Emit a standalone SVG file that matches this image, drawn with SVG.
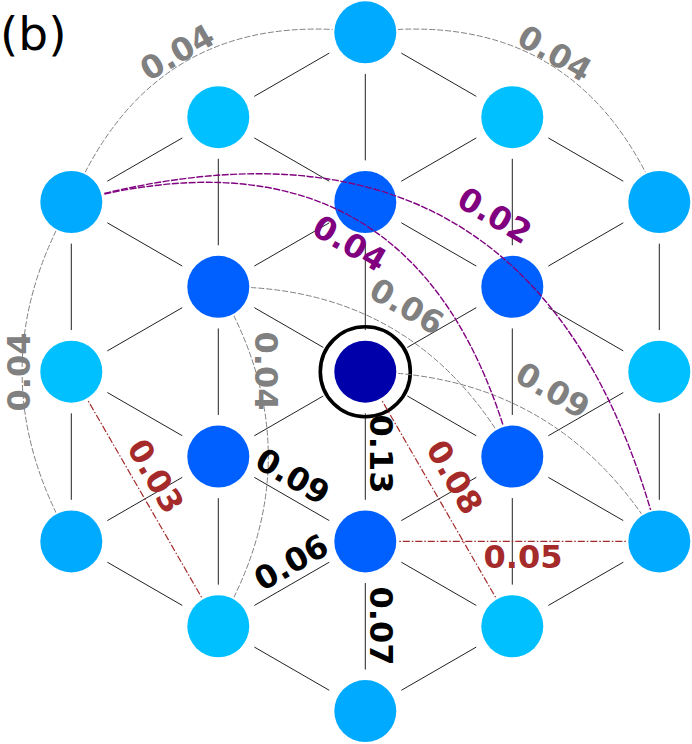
<svg xmlns="http://www.w3.org/2000/svg" width="692" height="744" viewBox="0 0 692 744">
<style>
.edge{stroke:#222;stroke-width:1;fill:none}
.ca{fill:#00aaff}
.cl{fill:#00c0ff}
.cm{fill:#0060ff}
.cd{fill:#0000aa}
.ring{fill:none;stroke:#000;stroke-width:3.6}
.arc{fill:none}
.gray{stroke:#808080;stroke-width:1;stroke-dasharray:6 2}
.purple{stroke:#800080;stroke-width:1.4;stroke-dasharray:7 1.5}
.brown{stroke:#a52a2a;stroke-width:1.2;stroke-dasharray:7 2 1.5 2}
.lbl{font-family:"DejaVu Sans",Verdana,sans-serif;font-weight:bold;font-size:32px;text-anchor:middle}
.tg{fill:#808080}.tp{fill:#800080}.tb{fill:#a52a2a}.tk{fill:#000}
</style>
<defs>
<mask id="endcut" maskUnits="userSpaceOnUse" x="0" y="0" width="692" height="744">
<rect x="0" y="0" width="692" height="744" fill="#fff"/>
<g fill="#000">
<circle cx="71.3" cy="202" r="33"/>
<circle cx="365.3" cy="32.3" r="33"/>
<circle cx="659.3" cy="202" r="33"/>
<circle cx="71.3" cy="541.4" r="33"/>
<circle cx="218.3" cy="286.85" r="33"/>
<circle cx="218.3" cy="626.25" r="33"/>
<circle cx="512.3" cy="456.55" r="33"/>
<circle cx="365.3" cy="371.7" r="33"/>
<circle cx="659.3" cy="541.4" r="33"/>
<circle cx="71.3" cy="371.7" r="33"/>
<circle cx="512.3" cy="626.25" r="33"/>
<circle cx="365.3" cy="541.4" r="33"/>
</g>
</mask>
</defs>
<g id="connectors-lattice" class="edge">
<line x1="71.3" y1="243.6" x2="71.3" y2="330.1"/>
<line x1="71.3" y1="413.3" x2="71.3" y2="499.8"/>
<line x1="218.3" y1="158.75" x2="218.3" y2="245.25"/>
<line x1="218.3" y1="328.45" x2="218.3" y2="414.95"/>
<line x1="218.3" y1="498.15" x2="218.3" y2="584.65"/>
<line x1="365.3" y1="73.9" x2="365.3" y2="160.4"/>
<line x1="365.3" y1="243.6" x2="365.3" y2="330.1"/>
<line x1="365.3" y1="413.3" x2="365.3" y2="499.8"/>
<line x1="365.3" y1="583" x2="365.3" y2="669.5"/>
<line x1="512.3" y1="158.75" x2="512.3" y2="245.25"/>
<line x1="512.3" y1="328.45" x2="512.3" y2="414.95"/>
<line x1="512.3" y1="498.15" x2="512.3" y2="584.65"/>
<line x1="659.3" y1="243.6" x2="659.3" y2="330.1"/>
<line x1="659.3" y1="413.3" x2="659.3" y2="499.8"/>
<line x1="107.33" y1="181.2" x2="182.27" y2="137.95"/>
<line x1="107.33" y1="222.8" x2="182.27" y2="266.05"/>
<line x1="107.33" y1="350.9" x2="182.27" y2="307.65"/>
<line x1="107.33" y1="392.5" x2="182.27" y2="435.75"/>
<line x1="107.33" y1="520.6" x2="182.27" y2="477.35"/>
<line x1="107.33" y1="562.2" x2="182.27" y2="605.45"/>
<line x1="254.33" y1="96.35" x2="329.27" y2="53.1"/>
<line x1="254.33" y1="137.95" x2="329.27" y2="181.2"/>
<line x1="254.33" y1="266.05" x2="329.27" y2="222.8"/>
<line x1="254.33" y1="307.65" x2="323.3" y2="347.45"/>
<line x1="254.33" y1="435.75" x2="323.3" y2="395.95"/>
<line x1="254.33" y1="477.35" x2="329.27" y2="520.6"/>
<line x1="254.33" y1="605.45" x2="329.27" y2="562.2"/>
<line x1="254.33" y1="647.05" x2="329.27" y2="690.3"/>
<line x1="401.33" y1="53.1" x2="476.27" y2="96.35"/>
<line x1="401.33" y1="181.2" x2="476.27" y2="137.95"/>
<line x1="401.33" y1="222.8" x2="476.27" y2="266.05"/>
<line x1="407.3" y1="347.45" x2="476.27" y2="307.65"/>
<line x1="407.3" y1="395.95" x2="476.27" y2="435.75"/>
<line x1="401.33" y1="520.6" x2="476.27" y2="477.35"/>
<line x1="401.33" y1="562.2" x2="476.27" y2="605.45"/>
<line x1="401.33" y1="690.3" x2="476.27" y2="647.05"/>
<line x1="548.33" y1="137.95" x2="623.27" y2="181.2"/>
<line x1="548.33" y1="266.05" x2="623.27" y2="222.8"/>
<line x1="548.33" y1="307.65" x2="623.27" y2="350.9"/>
<line x1="548.33" y1="435.75" x2="623.27" y2="392.5"/>
<line x1="548.33" y1="477.35" x2="623.27" y2="520.6"/>
<line x1="548.33" y1="605.45" x2="623.27" y2="562.2"/>
</g>
<g id="nodes">
<g id="n-0-m4"><circle class="ca" cx="365.3" cy="32.3" r="31"/></g>
<g id="n-m1-m3"><circle class="cl" cx="218.3" cy="117.15" r="31"/></g>
<g id="n-1-m3"><circle class="cl" cx="512.3" cy="117.15" r="31"/></g>
<g id="n-m2-m2"><circle class="ca" cx="71.3" cy="202" r="31"/></g>
<g id="n-0-m2"><circle class="cm" cx="365.3" cy="202" r="31"/></g>
<g id="n-2-m2"><circle class="ca" cx="659.3" cy="202" r="31"/></g>
<g id="n-m1-m1"><circle class="cm" cx="218.3" cy="286.85" r="31"/></g>
<g id="n-1-m1"><circle class="cm" cx="512.3" cy="286.85" r="31"/></g>
<g id="n-m2-0"><circle class="cl" cx="71.3" cy="371.7" r="31"/></g>
<g id="n-center"><circle class="cd" cx="365.3" cy="371.7" r="31"/><circle class="ring" cx="365.3" cy="371.7" r="45"/></g>
<g id="n-2-0"><circle class="cl" cx="659.3" cy="371.7" r="31"/></g>
<g id="n-m1-1"><circle class="cm" cx="218.3" cy="456.55" r="31"/></g>
<g id="n-1-1"><circle class="cm" cx="512.3" cy="456.55" r="31"/></g>
<g id="n-m2-2"><circle class="ca" cx="71.3" cy="541.4" r="31"/></g>
<g id="n-0-2"><circle class="cm" cx="365.3" cy="541.4" r="31"/></g>
<g id="n-2-2"><circle class="ca" cx="659.3" cy="541.4" r="31"/></g>
<g id="n-m1-3"><circle class="cl" cx="218.3" cy="626.25" r="31"/></g>
<g id="n-1-3"><circle class="cl" cx="512.3" cy="626.25" r="31"/></g>
<g id="n-0-4"><circle class="ca" cx="365.3" cy="711.1" r="31"/></g>
</g>
<g id="connectors-links" class="arc" mask="url(#endcut)">
<path class="gray" d="M71.3,202 Q153.8,5.4 365.3,32.3"/>
<path class="gray" d="M365.3,32.3 Q576.8,5.4 659.3,202"/>
<path class="gray" d="M71.3,202 Q-27.1,371.7 71.3,541.4"/>
<path class="gray" d="M218.3,286.85 Q318.3,456.55 218.3,626.25"/>
<path class="gray" d="M218.3,286.85 Q416.2,283.5 512.3,456.55"/>
<path class="gray" d="M365.3,371.7 Q559.8,374.2 659.3,541.4"/>
<path class="purple" d="M71.3,202 Q419.1,108.8 512.3,456.55"/>
<path class="purple" d="M71.3,202 Q538.4,71.8 659.3,541.4"/>
<path class="brown" d="M71.3,371.7 L218.3,626.25"/>
<path class="brown" d="M365.3,371.7 L512.3,626.25"/>
<path class="brown" d="M365.3,541.4 L659.3,541.4"/>
</g>
<g id="labels" class="lbl">
<text class="tg" transform="translate(177,52) rotate(-30)" y="11.6">0.04</text>
<text class="tg" transform="translate(555,53) rotate(30)" y="11.6">0.04</text>
<text class="tg" transform="translate(18.5,372) rotate(-90)" y="11.6">0.04</text>
<text class="tg" transform="translate(266.5,371) rotate(90)" y="11.6">0.04</text>
<text class="tg" transform="translate(407,306) rotate(30)" y="11.6">0.06</text>
<text class="tg" transform="translate(553,390) rotate(30)" y="11.6">0.09</text>
<text class="tp" transform="translate(350,243) rotate(30)" y="11.6">0.04</text>
<text class="tp" transform="translate(495,215) rotate(30)" y="11.6">0.02</text>
<text class="tb" transform="translate(156,476) rotate(60)" y="11.6">0.03</text>
<text class="tb" transform="translate(455,477) rotate(60)" y="11.6">0.08</text>
<text class="tb" transform="translate(523,556)" y="11.6">0.05</text>
<text class="tk" transform="translate(382,454) rotate(90)" y="11.6">0.13</text>
<text class="tk" transform="translate(293,476) rotate(30)" y="11.6">0.09</text>
<text class="tk" transform="translate(291,562) rotate(-30)" y="11.6">0.06</text>
<text class="tk" transform="translate(382,626) rotate(90)" y="11.6">0.07</text>
</g>
<text x="0" y="50" font-family="DejaVu Sans, Verdana, sans-serif" font-size="47" fill="#000">(b)</text>
</svg>
